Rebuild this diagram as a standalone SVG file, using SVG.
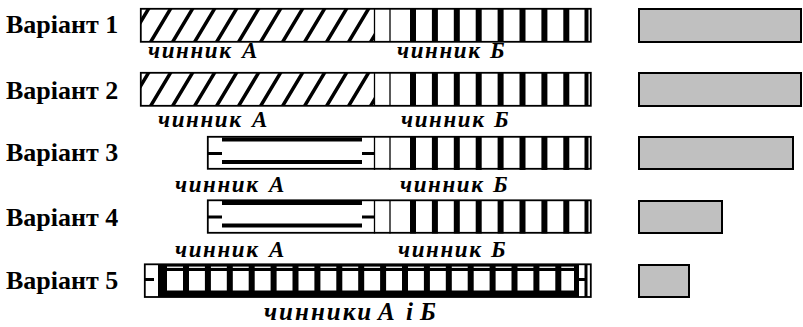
<svg xmlns="http://www.w3.org/2000/svg" width="803" height="327" viewBox="0 0 803 327">
<style>
.v{font-family:"Liberation Serif","DejaVu Serif",serif;font-weight:bold;font-size:26px;fill:#000}
.l{font-family:"Liberation Serif","DejaVu Serif",serif;font-weight:bold;font-style:italic;font-size:23px;letter-spacing:1.6px;fill:#000}
.l5{font-size:25px;letter-spacing:2px}
.o{fill:none;stroke:#000;stroke-width:1.8}
.g{fill:#c0c0c0;stroke:#000;stroke-width:2}
.h{stroke:#000;stroke-width:3.5}
.t{stroke:#000;stroke-width:1.3}
.k{fill:#000}
</style>
<defs>
<clipPath id="c1"><rect x="141" y="9" width="233" height="33"/></clipPath>
<clipPath id="c2"><rect x="141" y="73" width="233" height="33"/></clipPath>
<g id="hatch">
<path class="h" d="M128,34 l21,-35 M150,34 l21,-35 M172,34 l21,-35 M194,34 l21,-35 M216,34 l21,-35 M238,34 l21,-35 M260,34 l21,-35 M282,34 l21,-35 M304,34 l21,-35 M326,34 l21,-35 M348,34 l21,-35 M370,34 l21,-35"/>
</g>
<g id="cellsB">
<line class="t" x1="374.5" y1="0" x2="374.5" y2="33"/>
<line class="t" x1="390" y1="0" x2="390" y2="33"/>
<rect class="k" x="410" y="0" width="6" height="33"/>
<rect class="k" x="431.9" y="0" width="6" height="33"/>
<rect class="k" x="453.8" y="0" width="6" height="33"/>
<rect class="k" x="475.7" y="0" width="6" height="33"/>
<rect class="k" x="497.6" y="0" width="6" height="33"/>
<rect class="k" x="519.5" y="0" width="6" height="33"/>
<rect class="k" x="541.4" y="0" width="6" height="33"/>
<rect class="k" x="563.3" y="0" width="6" height="33"/>
<rect class="k" x="584.5" y="0" width="4" height="33"/>
</g>
<g id="patA">
<rect class="k" x="222" y="0.5" width="140" height="4"/>
<rect class="k" x="222" y="23" width="140" height="4"/>
<rect class="k" x="207" y="15" width="15" height="3"/>
<rect class="k" x="362" y="15" width="13" height="3"/>
</g>
</defs>

<g id="variant1">
<text class="v" x="6" y="33">Варіант 1</text>
<g transform="translate(0,9)"><use href="#cellsB"/></g>
<g clip-path="url(#c1)"><use href="#hatch" transform="translate(0,9)"/></g>
<rect class="o" x="140.8" y="8.8" width="450" height="33"/>
<text class="l" x="148" y="58">чинник<tspan x="242">А</tspan></text>
<text class="l" x="397" y="58">чинник<tspan x="490">Б</tspan></text>
<rect class="g" x="639" y="9" width="162" height="33"/>
</g>

<g id="variant2">
<text class="v" x="6" y="99">Варіант 2</text>
<g transform="translate(0,73)"><use href="#cellsB"/></g>
<g clip-path="url(#c2)"><use href="#hatch" transform="translate(0,73)"/></g>
<rect class="o" x="140.8" y="72.8" width="450" height="33"/>
<text class="l" x="158" y="127">чинник<tspan x="252">А</tspan></text>
<text class="l" x="401" y="127">чинник<tspan x="494">Б</tspan></text>
<rect class="g" x="639" y="73" width="162" height="33"/>
</g>

<g id="variant3">
<text class="v" x="6" y="161">Варіант 3</text>
<g transform="translate(0,137)"><use href="#cellsB"/><use href="#patA"/></g>
<rect class="o" x="207.8" y="136.8" width="383" height="32"/>
<text class="l" x="175" y="192">чинник<tspan x="269">А</tspan></text>
<text class="l" x="400" y="192">чинник<tspan x="493">Б</tspan></text>
<rect class="g" x="639" y="137" width="154" height="32"/>
</g>

<g id="variant4">
<text class="v" x="6" y="226">Варіант 4</text>
<g transform="translate(0,200.5)"><use href="#cellsB"/><use href="#patA"/></g>
<rect class="o" x="207.8" y="200.3" width="383" height="32.5"/>
<text class="l" x="175" y="257">чинник<tspan x="269">А</tspan></text>
<text class="l" x="398" y="257">чинник<tspan x="491">Б</tspan></text>
<rect class="g" x="639" y="201" width="83" height="32"/>
</g>

<g id="variant5">
<text class="v" x="6" y="289">Варіант 5</text>
<rect class="k" x="158" y="264.5" width="420" height="6.5"/>
<rect fill="#fff" x="160" y="266.6" width="416" height="1.3"/>
<rect class="k" x="158" y="290.5" width="420" height="6.5"/>
<rect class="k" x="158" y="264.5" width="9" height="32.5"/>
<rect class="k" x="183" y="264.5" width="6" height="32.5"/>
<rect class="k" x="204.9" y="264.5" width="6" height="32.5"/>
<rect class="k" x="226.8" y="264.5" width="6" height="32.5"/>
<rect class="k" x="248.7" y="264.5" width="6" height="32.5"/>
<rect class="k" x="270.6" y="264.5" width="6" height="32.5"/>
<rect class="k" x="292.5" y="264.5" width="6" height="32.5"/>
<rect class="k" x="314.4" y="264.5" width="6" height="32.5"/>
<rect class="k" x="336.3" y="264.5" width="6" height="32.5"/>
<rect class="k" x="358.2" y="264.5" width="6" height="32.5"/>
<rect class="k" x="380.1" y="264.5" width="6" height="32.5"/>
<rect class="k" x="402" y="264.5" width="6" height="32.5"/>
<rect class="k" x="423.9" y="264.5" width="6" height="32.5"/>
<rect class="k" x="445.8" y="264.5" width="6" height="32.5"/>
<rect class="k" x="467.7" y="264.5" width="6" height="32.5"/>
<rect class="k" x="489.6" y="264.5" width="6" height="32.5"/>
<rect class="k" x="511.5" y="264.5" width="6" height="32.5"/>
<rect class="k" x="533.4" y="264.5" width="6" height="32.5"/>
<rect class="k" x="555.3" y="264.5" width="6" height="32.5"/>
<rect class="k" x="574" y="264.5" width="5" height="32.5"/>
<rect class="k" x="144" y="278" width="10" height="3"/>
<rect class="k" x="578" y="278" width="7" height="3"/>
<rect class="k" x="584.5" y="264.5" width="3" height="32.5"/>
<rect class="o" x="144.8" y="264.3" width="446" height="32.7"/>
<text class="l l5" x="264" y="320">чинники<tspan x="378">А</tspan><tspan x="406">і</tspan><tspan x="420">Б</tspan></text>
<rect class="g" x="639" y="265" width="50" height="32"/>
</g>
</svg>
